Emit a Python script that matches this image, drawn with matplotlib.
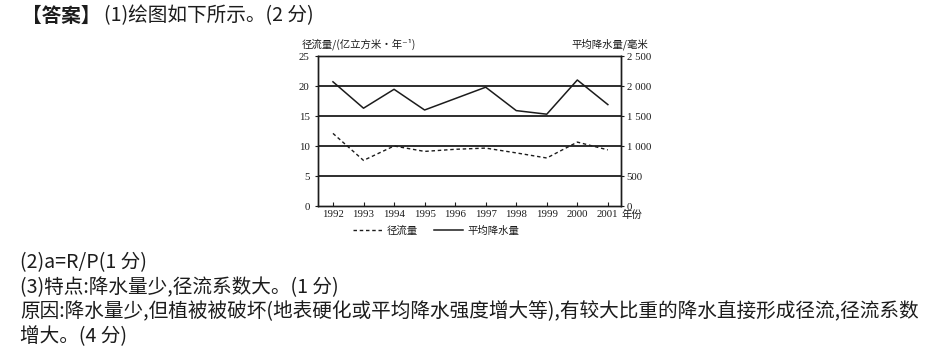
import matplotlib
matplotlib.use("Agg")
import matplotlib.pyplot as plt

# data
years = [1992, 1993, 1994, 1995, 1996, 1997, 1998, 1999, 2000, 2001]
runoff = [12.1, 7.6, 10.0, 9.1, 9.45, 9.65, 8.85, 8.0, 10.65, 9.35]          # 亿立方米/年
precip = [2070, 1630, 1945, 1600, 1790, 1980, 1590, 1530, 2100, 1690]         # 毫米
left_ticks = [0, 5, 10, 15, 20, 25]
right_ticks = [0, 500, 1000, 1500, 2000, 2500]
right_labels = ["0", "500", "1 000", "1 500", "2 000", "2 500"]

line_title_bold = "【答案】"
line_title_rest = "(1)绘图如下所示。(2 分)"
answer_lines = [
    "(2)a=R/P(1 分)",
    "(3)特点:降水量少,径流系数大。(1 分)",
    "原因:降水量少,但植被被破坏(地表硬化或平均降水强度增大等),有较大比重的降水直接形成径流,径流系数",
    "增大。(4 分)",
]

CJK = ["Noto Sans CJK SC", "DejaVu Sans"]
SERIF = ["Liberation Serif", "DejaVu Serif"]
INK = "#1c1c1c"

W, H = 931, 362
fig = plt.figure(figsize=(W / 100, H / 100), dpi=100)
fig.patch.set_facecolor("white")
renderer = fig.canvas.get_renderer()


def px(x, y):
    return x / W, 1 - y / H


def body_text(x, y, s, size, weight="normal"):
    return fig.text(*px(x, y), s, family=CJK, fontsize=size, weight=weight,
                    ha="left", va="center", color=INK)


# size the body text so the long line spans 20..918 px like the scan
probe = body_text(20, 312, answer_lines[2], 12)
size = 12 * (918 - 20) / probe.get_window_extent(renderer).width
probe.remove()

t = body_text(22, 16, line_title_bold, size, weight="bold")
x_end = t.get_window_extent(renderer).x1
body_text(x_end + 3, 16, line_title_rest, size)

line_y = [263, 288, 312, 337]
for s, y in zip(answer_lines, line_y):
    body_text(20, y, s, size)

# chart
ax_l, ax_r, ax_t, ax_b = 318, 621, 56, 206
ax = fig.add_axes([ax_l / W, 1 - ax_b / H, (ax_r - ax_l) / W, (ax_b - ax_t) / H])
ax2 = ax.twinx()

ax.set_xlim(1991.51, 2001.43)
ax.set_ylim(0, 25)
ax2.set_ylim(0, 2500)

for v in left_ticks[1:-1]:
    ax.axhline(v, color=INK, lw=1.3, zorder=1)

ax.plot(years, runoff, color=INK, lw=1.0, ls=(0, (2.5, 2)), label="径流量", zorder=3)
ax2.plot(years, precip, color=INK, lw=1.1, label="平均降水量", zorder=3)

for a in (ax, ax2):
    for sp in a.spines.values():
        sp.set_color(INK)
        sp.set_linewidth(1.0)

ax.set_xticks(years)
ax.set_xticklabels([str(y) for y in years], family=SERIF, fontsize=7.8, color=INK)
ax.tick_params(axis="x", direction="in", length=3, width=0.8, pad=3, colors=INK)
ax.set_yticks(left_ticks)
ax.set_yticklabels([str(v) for v in left_ticks], family=SERIF, fontsize=7.8, color=INK)
ax.tick_params(axis="y", direction="out", length=2, width=0.8, pad=4, colors=INK)
ax2.set_yticks(right_ticks)
ax2.set_yticklabels(right_labels, family=SERIF, fontsize=7.8, color=INK)
ax2.tick_params(axis="y", direction="out", length=2, width=0.8, pad=2, colors=INK)

fig.text(*px(302, 44), "径流量/(亿立方米·年⁻¹)", family=CJK, fontsize=7.5,
         ha="left", va="center", color=INK)
fig.text(*px(648, 44), "平均降水量/毫米", family=CJK, fontsize=7.5,
         ha="right", va="center", color=INK)
fig.text(*px(622, 215), "年份", family=CJK, fontsize=7.5,
         ha="left", va="center", color=INK)

h1, l1 = ax.get_legend_handles_labels()
h2, l2 = ax2.get_legend_handles_labels()
leg = fig.legend(h1 + h2, l1 + l2, loc="center", bbox_to_anchor=px(436, 231),
                 ncol=2, frameon=False, handlelength=2.8, handletextpad=0.4,
                 columnspacing=1.6, borderpad=0, prop={"family": CJK, "size": 7.5})
for t in leg.get_texts():
    t.set_color(INK)

fig.savefig("out.png", dpi=100, facecolor="white")
